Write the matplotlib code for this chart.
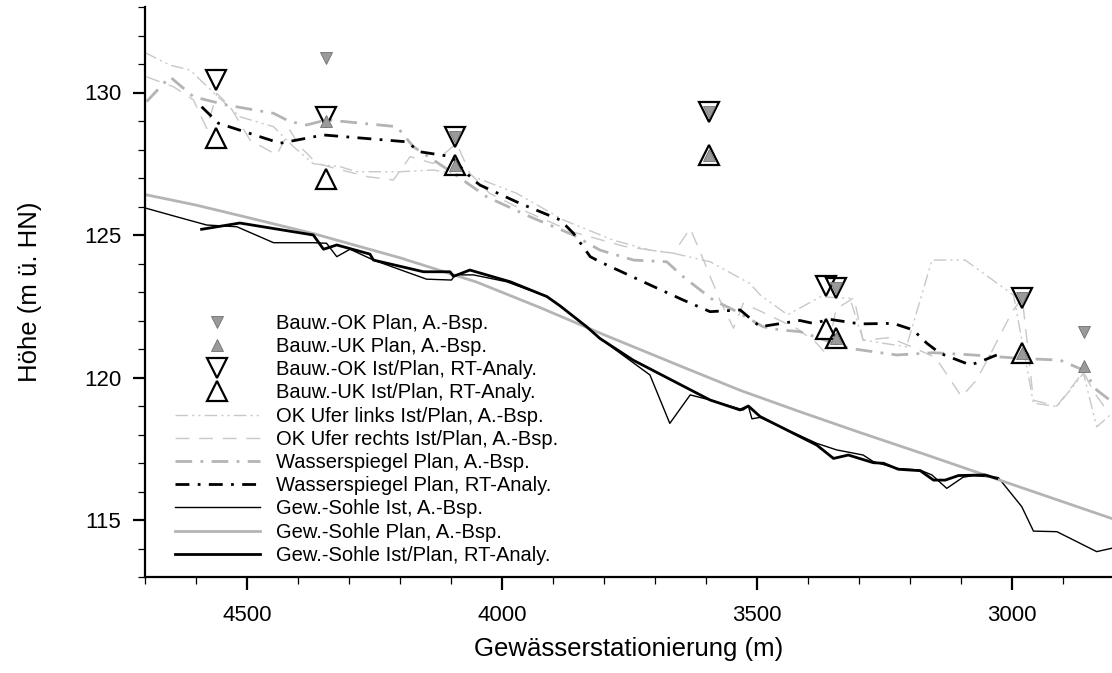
import matplotlib
matplotlib.use("Agg")
import matplotlib.pyplot as plt
from matplotlib.ticker import MultipleLocator

plt.rcParams['font.family'] = ['Liberation Sans', 'DejaVu Sans']

# Bauwerke (A.-Bsp. = small grey markers, RT-Analy. = large open markers)
ok_plan_x = [4345, 4092, 3594, 3345, 2980, 2859]
ok_plan_y = [131.2, 128.45, 129.3, 123.15, 122.8, 121.6]
uk_plan_x = [4345, 4092, 3594, 3345, 2980, 2859]
uk_plan_y = [129.0, 127.45, 127.8, 121.4, 120.85, 120.4]
ok_rt_x = [4560, 4345, 4092, 3594, 3365, 3345, 2980]
ok_rt_y = [130.45, 129.15, 128.45, 129.3, 123.2, 123.15, 122.8]
uk_rt_x = [4560, 4345, 4092, 3594, 3365, 3345, 2980]
uk_rt_y = [128.4, 126.95, 127.45, 127.8, 121.7, 121.4, 120.85]

# OK Ufer links
links_x = [4700, 4651, 4612, 4560, 4514, 4448, 4409, 4370, 4318, 4285, 4200, 4135,
           4056, 3971, 3880, 3782, 3710, 3664, 3592, 3514, 3494, 3440, 3376, 3318,
           3292, 3252, 3207, 3157, 3092, 2997, 2958, 2912, 2860, 2834, 2804]
links_y = [131.4, 130.96, 130.79, 129.9, 129.15, 128.8, 128.1, 127.5, 127.4, 127.22, 127.22, 127.28,
           127.05, 126.46, 125.53, 124.82, 124.47, 124.36, 124.06, 123.3, 122.9, 122.2, 122.83, 122.78,
           121.32, 121.2, 121.08, 124.12, 124.12, 122.89, 119.1, 118.98, 120.15, 118.27, 118.74]

# OK Ufer rechts
rechts_x = [4697, 4644, 4605, 4579, 4559, 4533, 4494, 4442, 4416, 4396, 4363, 4265,
            4213, 4180, 4135, 4089, 4063, 4024, 3950, 3860, 3760, 3700, 3664, 3631,
            3605, 3573, 3546, 3527, 3490, 3420, 3383, 3363, 3345, 3310, 3292, 3240,
            3200, 3150, 3099, 3070, 3040, 3000, 2980, 2972, 2958, 2912, 2860, 2840,
            2820, 2804]
rechts_y = [130.55, 130.2, 129.74, 128.74, 129.97, 129.5, 128.33, 127.81, 128.68, 128.1, 127.51, 127.05,
            126.93, 127.75, 127.51, 128.22, 127.16, 126.46, 125.8, 125.1, 124.6, 124.45, 124.36, 125.23,
            124.12, 122.72, 121.73, 122.6, 122.3, 121.7, 121.2, 120.8, 122.4, 122.8, 121.3, 121.4,
            121.1, 120.7, 119.33, 119.9, 120.9, 122.3, 122.8, 121.5, 119.2, 119.0, 120.2, 119.5,
            119.0, 119.2]

# Wasserspiegel Plan, A.-Bsp.
wsp_a_x = [4697, 4651, 4605, 4540, 4448, 4416, 4383, 4344, 4206, 4174, 4095, 4030,
           3945, 3860, 3808, 3742, 3677, 3645, 3586, 3546, 3488, 3455, 3416, 3318,
           3226, 3154, 3076, 2984, 2906, 2860, 2834, 2804]
wsp_a_y = [129.68, 130.55, 129.85, 129.56, 129.27, 128.98, 128.86, 129.04, 128.8, 128.1, 127.16, 126.34,
           125.64, 125.0, 124.47, 124.12, 124.06, 123.54, 122.72, 122.37, 121.78, 121.67, 121.61, 121.02,
           120.79, 120.87, 120.79, 120.67, 120.61, 120.26, 119.56, 119.15]

# Wasserspiegel Plan, RT-Analy.
wsp_rt_x = [4589, 4569, 4556, 4435, 4350, 4187, 4161, 4099, 4082, 4056, 4043, 3965,
            3886, 3860, 3827, 3808, 3710, 3645, 3592, 3533, 3494, 3416, 3390, 3357,
            3298, 3233, 3194, 3167, 3141, 3082, 3063, 3030]
wsp_rt_y = [129.5, 129.15, 128.92, 128.22, 128.51, 128.27, 127.92, 127.75, 127.4, 126.93, 126.75, 126.11,
            125.53, 125.06, 124.24, 124.06, 123.25, 122.72, 122.31, 122.37, 121.78, 122.0, 121.9, 122.04,
            121.88, 121.9, 121.67, 121.2, 120.85, 120.44, 120.55, 120.79]

# Gew.-Sohle Ist, A.-Bsp.
sohle_ist_x = [4700, 4638, 4579, 4520, 4448, 4370, 4344, 4324, 4298, 4252, 4148, 4099,
               4092, 4056, 3991, 3912, 3886, 3834, 3808, 3710, 3671, 3631, 3592, 3527,
               3517, 3510, 3494, 3383, 3344, 3292, 3272, 3226, 3180, 3157, 3128, 3096,
               3076, 3027, 2981, 2958, 2912, 2834, 2804]
sohle_ist_y = [125.95, 125.64, 125.35, 125.29, 124.73, 124.73, 124.71, 124.24, 124.5, 124.12, 123.45, 123.42,
               123.6, 123.6, 123.36, 122.84, 122.51, 121.78, 121.37, 120.09, 118.39, 119.39, 119.21, 118.86,
               119.0, 118.55, 118.6, 117.69, 117.46, 117.28, 117.05, 116.81, 116.75, 116.58, 116.11, 116.5,
               116.56, 116.49, 115.47, 114.61, 114.59, 113.89, 114.01]

# Gew.-Sohle Plan, A.-Bsp.
sohle_plan_x = [4700, 4600, 4500, 4370, 4200, 4050, 3925, 3800, 3650, 3533, 3416, 3300, 3167, 3000, 2804]
sohle_plan_y = [126.42, 126.05, 125.62, 125.05, 124.2, 123.35, 122.45, 121.5, 120.4, 119.55, 118.8, 118.08, 117.28, 116.25, 115.05]

# Gew.-Sohle Ist/Plan, RT-Analy.
sohle_rt_x = [4589, 4514, 4370, 4350, 4324, 4259, 4252, 4154, 4102, 4095, 4063, 3984,
              3912, 3886, 3834, 3808, 3743, 3592, 3533, 3517, 3494, 3383, 3350, 3321,
              3272, 3252, 3223, 3180, 3154, 3131, 3105, 3053, 3030]
sohle_rt_y = [125.2, 125.42, 125.0, 124.5, 124.65, 124.33, 124.12, 123.71, 123.71, 123.55, 123.77, 123.36,
              122.84, 122.51, 121.78, 121.37, 120.61, 119.21, 118.86, 119.0, 118.63, 117.63, 117.16, 117.28,
              117.01, 116.99, 116.78, 116.73, 116.4, 116.4, 116.56, 116.58, 116.46]

fig = plt.figure(figsize=(11.12, 6.73), dpi=100)
ax = fig.add_axes([145/1112, 96/673, 967/1112, 570/673])

light = '#c8c8c8'
mid = '#b4b4b4'

ax.plot(links_x, links_y, color=light, lw=1, dashes=(9, 3, 1.5, 3, 1.5, 3),
        label='OK Ufer links Ist/Plan, A.-Bsp.')
ax.plot(rechts_x, rechts_y, color=light, lw=1, dashes=(10, 7),
        label='OK Ufer rechts Ist/Plan, A.-Bsp.')
ax.plot(wsp_a_x, wsp_a_y, color=mid, lw=2, dashes=(6, 3, 1, 3),
        label='Wasserspiegel Plan, A.-Bsp.')
ax.plot(wsp_rt_x, wsp_rt_y, color='black', lw=2, dashes=(5, 3, 1, 3),
        label='Wasserspiegel Plan, RT-Analy.')
ax.plot(sohle_ist_x, sohle_ist_y, color='black', lw=1,
        label='Gew.-Sohle Ist, A.-Bsp.')
ax.plot(sohle_plan_x, sohle_plan_y, color=mid, lw=2,
        label='Gew.-Sohle Plan, A.-Bsp.')
ax.plot(sohle_rt_x, sohle_rt_y, color='black', lw=2,
        label='Gew.-Sohle Ist/Plan, RT-Analy.')

ax.plot(ok_rt_x, ok_rt_y, 'v', ms=15, mfc='none', mec='black', mew=1.6, zorder=5,
        label='Bauw.-OK Ist/Plan, RT-Analy.')
ax.plot(uk_rt_x, uk_rt_y, '^', ms=15, mfc='none', mec='black', mew=1.6, zorder=5,
        label='Bauw.-UK Ist/Plan, RT-Analy.')
ax.plot(ok_plan_x, ok_plan_y, 'v', ms=8, mfc='#9a9a9a', mec='#707070', mew=0.6, zorder=6,
        label='Bauw.-OK Plan, A.-Bsp.')
ax.plot(uk_plan_x, uk_plan_y, '^', ms=8, mfc='#9a9a9a', mec='#707070', mew=0.6, zorder=6,
        label='Bauw.-UK Plan, A.-Bsp.')

handles, labels = ax.get_legend_handles_labels()
order = [9, 10, 7, 8, 0, 1, 2, 3, 4, 5, 6]
ax.legend([handles[i] for i in order], [labels[i] for i in order],
          loc='upper left', bbox_to_anchor=(0.031, 0.462), frameon=False,
          fontsize=14.5, handlelength=4.2, handletextpad=0.8, labelspacing=0.21,
          borderpad=0, borderaxespad=0, numpoints=1)

ax.set_xlim(4700, 2804)
ax.set_ylim(113, 133)
ax.xaxis.set_major_locator(MultipleLocator(500))
ax.xaxis.set_minor_locator(MultipleLocator(100))
ax.yaxis.set_major_locator(MultipleLocator(5))
ax.yaxis.set_minor_locator(MultipleLocator(1))

for s in ['top', 'right']:
    ax.spines[s].set_visible(False)
for s in ['left', 'bottom']:
    ax.spines[s].set_linewidth(1.6)

ax.tick_params(which='major', direction='out', length=9, width=1.6, labelsize=16)
ax.tick_params(which='minor', direction='out', length=5, width=0.9)
ax.tick_params(axis='x', which='major', pad=11)
ax.tick_params(axis='y', which='major', pad=8)

ax.set_xlabel('Gewässerstationierung (m)', fontsize=18.5, labelpad=8)
ax.set_ylabel('Höhe (m ü. HN)', fontsize=18.5, labelpad=30)

fig.savefig('out.png', dpi=100)
